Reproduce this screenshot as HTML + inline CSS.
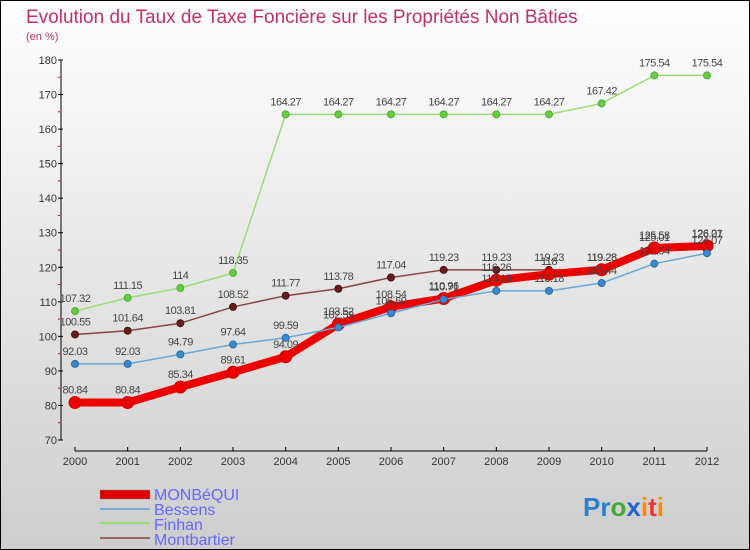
<!DOCTYPE html>
<html><head><meta charset="utf-8"><style>
html,body{margin:0;padding:0}
body{width:750px;height:550px;overflow:hidden;font-family:"Liberation Sans",sans-serif}
svg{display:block}
</style></head><body>
<svg id="c" width="750" height="550">
<defs><linearGradient id="bg" x1="0" y1="0" x2="0" y2="1"><stop offset="0" stop-color="#ffffff"/><stop offset="1" stop-color="#cecece"/></linearGradient></defs>
<rect x="0.5" y="0.5" width="749" height="549" fill="url(#bg)" stroke="#000"/>
<text x="26" y="23" font-size="19" fill="#c0306a">Evolution du Taux de Taxe Foncière sur les Propriétés Non Bâties</text>
<text x="26" y="40" font-size="11" fill="#c0306a">(en %)</text>
<g id="axes"></g><g id="series"></g>
<g>
<rect x="100" y="490" width="50" height="9" fill="#e00000" stroke="#888" stroke-width="0.5"/>
<text x="154" y="500" font-size="16" fill="#6666ff">MONBéQUI</text>
<line x1="100" y1="509" x2="150" y2="509" stroke="#7aaad0" stroke-width="2"/>
<text x="154" y="515" font-size="16" fill="#6666ff">Bessens</text>
<line x1="100" y1="523" x2="150" y2="523" stroke="#99dd77" stroke-width="2"/>
<text x="154" y="530" font-size="16" fill="#6666ff">Finhan</text>
<line x1="100" y1="538" x2="150" y2="538" stroke="#996666" stroke-width="2"/>
<text x="154" y="545" font-size="16" fill="#6666ff">Montbartier</text>
</g>
<g font-size="26" font-weight="bold">
<text x="583" y="516"><tspan fill="#2a7fd0">Pr</tspan><tspan fill="#44aa33">o</tspan><tspan fill="#2266cc">x</tspan><tspan fill="#ff8800">i</tspan><tspan fill="#ee3333">t</tspan><tspan fill="#ff8800">i</tspan></text>
</g>
</svg>
<script>
const years=[2000,2001,2002,2003,2004,2005,2006,2007,2008,2009,2010,2011,2012];
const yTicks=[70,80,90,100,110,120,130,140,150,160,170,180];
const monbequi=[80.84,80.84,85.34,89.61,94.09,103.52,108.54,110.96,116.26,118,119.28,125.58,126.21];
const bessens=[92.03,92.03,94.79,97.64,99.59,102.59,106.69,110.71,113.18,113.18,115.44,121.04,124.07];
const finhan=[107.32,111.15,114,118.35,164.27,164.27,164.27,164.27,164.27,164.27,167.42,175.54,175.54];
const montbartier=[100.55,101.64,103.81,108.52,111.77,113.78,117.04,119.23,119.23,119.23,119.28,125.01,126.07];
const NS="http://www.w3.org/2000/svg";
const X=i=>75+i*(707-75)/(years.length-1);
const Y=v=>440-(v-70)*(380/110);
function mk(t,a,p){const e=document.createElementNS(NS,t);for(const k in a)e.setAttribute(k,a[k]);p.appendChild(e);return e;}
const ax=document.getElementById('axes');
let e=mk('line',{x1:61,y1:Y(180),x2:61,y2:Y(70),stroke:'#000'},ax);


e=mk('line',{x1:75,y1:451,x2:707,y2:451,stroke:'#000'},ax);


yTicks.forEach((v,i)=>{
  mk('line',{x1:58,y1:Y(v),x2:63,y2:Y(v),stroke:'#000'},ax);
  if(i<yTicks.length-1) mk('line',{x1:58,y1:Y(v+5),x2:60,y2:Y(v+5),stroke:'#e00'},ax);
  const t=mk('text',{x:57,y:Y(v)+4,'font-size':11,'text-anchor':'end',fill:'#333'},ax);
  t.textContent=v;
  
  
});
years.forEach((y,i)=>{
  mk('line',{x1:X(i),y1:447,x2:X(i),y2:451,stroke:'#000'},ax);
  const t=mk('text',{x:X(i),y:465,'font-size':11,'text-anchor':'middle',fill:'#333'},ax);
  t.textContent=y;
  
  
});
const sg=document.getElementById('series');
function series(data,name,color,w,r,dot,dotStroke){
  const g=mk('g',{},sg);
  
  
  mk('polyline',{points:data.map((v,i)=>X(i)+','+Y(v)).join(' '),fill:'none',stroke:color,'stroke-width':w,'stroke-linejoin':'round'},g);
  data.forEach((v,i)=>{
    const c=mk('circle',{cx:X(i),cy:Y(v),r:r,fill:dot,stroke:dotStroke,'stroke-width':1},g);
    
    
    const t=mk('text',{x:X(i),y:Y(v)-9,'font-size':11,'text-anchor':'middle',fill:'#444','letter-spacing':'-0.5'},g);
    t.textContent=v;
    
    
  });
}
series(finhan,'finhan','#99dd77',1.5,3.5,'#66cc44','#55aa33');
series(montbartier,'montbartier','#884444',1.5,3.5,'#661d1d','#4a1010');
series(monbequi,'monbequi','#ee0000',8,6,'#ee0000','#cc0000');
series(bessens,'bessens','#6aa6d6',1.5,3.5,'#3a8ad0','#2a6aa0');
</script>
</body></html>
